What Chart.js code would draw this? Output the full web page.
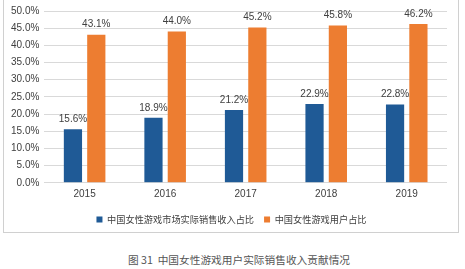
<!DOCTYPE html>
<html><head><meta charset="utf-8">
<script src="https://cdn.jsdelivr.net/npm/chart.js@4/dist/chart.umd.min.js"></script>
<style>
html,body{margin:0;padding:0;background:#fff;}
#wrap{position:absolute;left:0;top:0;width:465px;height:269px;overflow:hidden;}
#box{position:absolute;left:3px;top:-2px;width:456px;height:235px;border:1px solid #d0d0d0;box-sizing:border-box;}
#cv{position:absolute;left:0;top:0;}
#cap{position:absolute;left:0;top:252px;width:478px;text-align:center;font-family:"Noto Sans CJK SC","Noto Sans",sans-serif;font-size:10.7px;color:#555;}
</style></head><body>
<div id="wrap">
<div id="box"></div>
<canvas id="cv" width="465" height="235"></canvas>
<div id="cap">图 31&nbsp; 中国女性游戏用户实际销售收入贡献情况</div>
</div>
<script>
const categories = ['2015','2016','2017','2018','2019'];
const revenueShare = [15.6, 18.9, 21.2, 22.9, 22.8];
const userShare = [43.1, 44.0, 45.2, 45.8, 46.2];
const seriesNames = ['中国女性游戏市场实际销售收入占比','中国女性游戏用户占比'];

const labelPlugin = {
  id:'barLabels',
  afterLayout(chart){
    if(chart.legend){ chart.legend.left += 5; chart.legend.right += 5; }
  },
  afterDatasetsDraw(chart){
    const ctx = chart.ctx;
    ctx.save();
    ctx.font = '10px "Liberation Sans", Arial, sans-serif';
    ctx.fillStyle = '#404040';
    ctx.textAlign = 'center';
    ctx.textBaseline = 'bottom';
    chart.data.datasets.forEach((ds,i)=>{
      chart.getDatasetMeta(i).data.forEach((bar,j)=>{
        ctx.fillText(ds.data[j].toFixed(1)+'%', bar.x, bar.y-5);
      });
    });
    ctx.restore();
  }
};

new Chart(document.getElementById('cv'),{
  type:'bar',
  data:{
    labels:categories,
    datasets:[
      {label:seriesNames[0],data:revenueShare,backgroundColor:'#1F5A96',categoryPercentage:0.58,barPercentage:0.78},
      {label:seriesNames[1],data:userShare,backgroundColor:'#ED7D31',categoryPercentage:0.58,barPercentage:0.78}
    ]
  },
  options:{
    responsive:false,
    animation:false,
    layout:{padding:{top:8,right:18,left:6,bottom:1}},
    plugins:{
      legend:{
        position:'bottom',
        labels:{boxWidth:6,boxHeight:6,padding:10,color:'#404040',font:{family:'"Noto Sans CJK SC", sans-serif',size:9.2}}
      },
      tooltip:{enabled:false}
    },
    scales:{
      x:{
        grid:{display:false,drawTicks:false},
        border:{display:false},
        ticks:{color:'#404040',font:{family:'"Liberation Sans", Arial, sans-serif',size:10},padding:5}
      },
      y:{
        min:0,max:50,
        ticks:{stepSize:5,autoSkip:false,color:'#404040',font:{family:'"Liberation Sans", Arial, sans-serif',size:10},callback:v=>v.toFixed(1)+'%',padding:5},
        grid:{color:'#d9d9d9',drawTicks:false},
        border:{display:false}
      }
    }
  },
  plugins:[labelPlugin]
});
</script>
</body></html>
